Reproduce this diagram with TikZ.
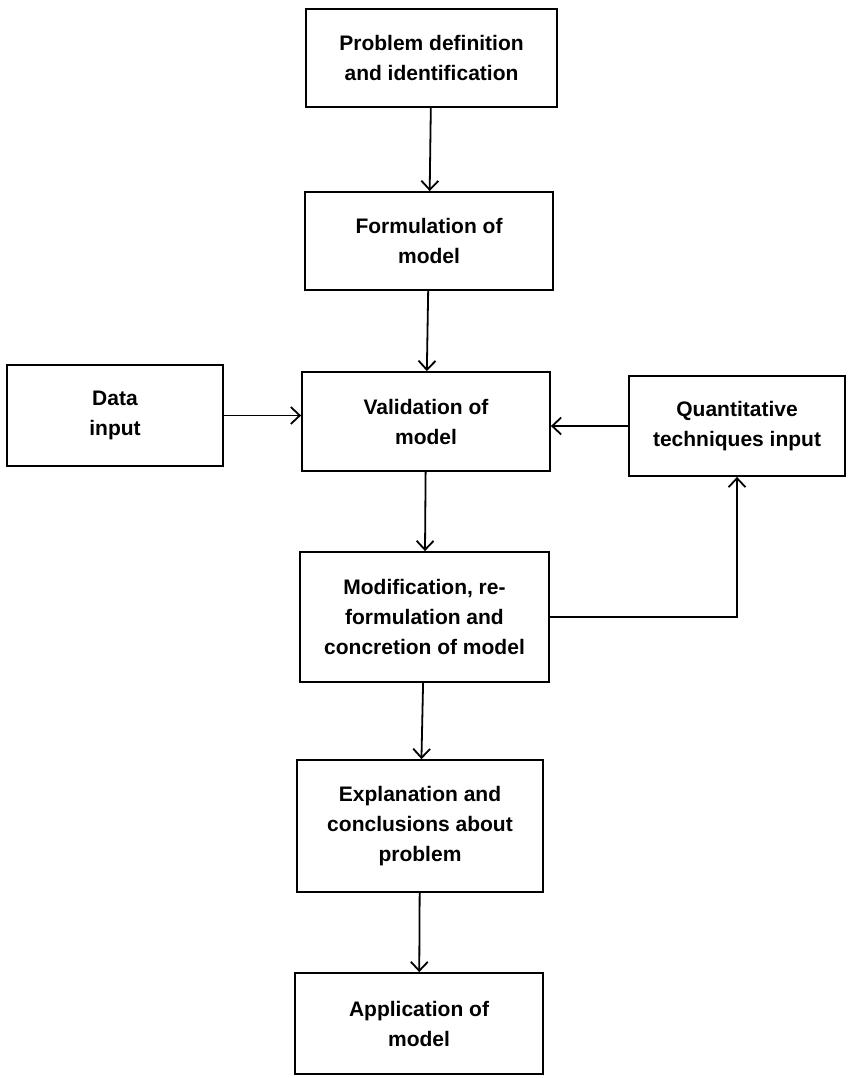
\documentclass[tikz,border=0pt]{standalone}
\usepackage{fontspec}
\setmainfont{Liberation Sans}
\usetikzlibrary{arrows.meta}

\begin{document}
\begin{tikzpicture}[x=1pt,y=-1pt]
        \useasboundingbox (0,0) rectangle (847,1078);
        \begin{scope}[every node/.style={draw, line width=1.8pt, align=center, inner sep=0pt, font=\bfseries\fontsize{21}{30}\selectfont}]
                \node[minimum width=251pt, minimum height=98pt] (Prob) at (431.5,58) {Problem definition\\and identification};
                \node[minimum width=248pt, minimum height=98pt] (Form) at (429,241) {Formulation of\\model};
                \node[minimum width=248pt, minimum height=99pt] (Valid) at (426,421.5) {Validation of\\model};
                \node[minimum width=216pt, minimum height=101pt] (Data) at (115,415.5) {Data\\input};
                \node[minimum width=216pt, minimum height=100pt] (Quant) at (737,426) {Quantitative\\techniques input};
                \node[minimum width=249pt, minimum height=130pt] (Modif) at (424.5,617) {Modification, re-\\formulation and\\concretion of model};
                \node[minimum width=246pt, minimum height=132pt] (Expl) at (420,826) {Explanation and\\conclusions about\\problem};
                \node[minimum width=248pt, minimum height=101pt] (Appl) at (419,1023.5) {Application of\\model};
        \end{scope}
        \begin{scope}[every edge/.style={draw, line width=1.8pt, ->, >={Straight Barb[length=9pt,width=17pt]}}]
                \path (Prob) edge (Form);
                \path (Form) edge (Valid);
                \path (Data.east) edge (Data.east -| Valid.west);
                \path (Quant.west) edge (Quant.west -| Valid.east);
                \path (Valid) edge (Modif);
                \path (Modif.east) edge [to path={-| (\tikztotarget)}] (Quant.south);
                \path (Modif) edge (Expl);
                \path (Expl) edge (Appl);
        \end{scope}
\end{tikzpicture}
\end{document}
